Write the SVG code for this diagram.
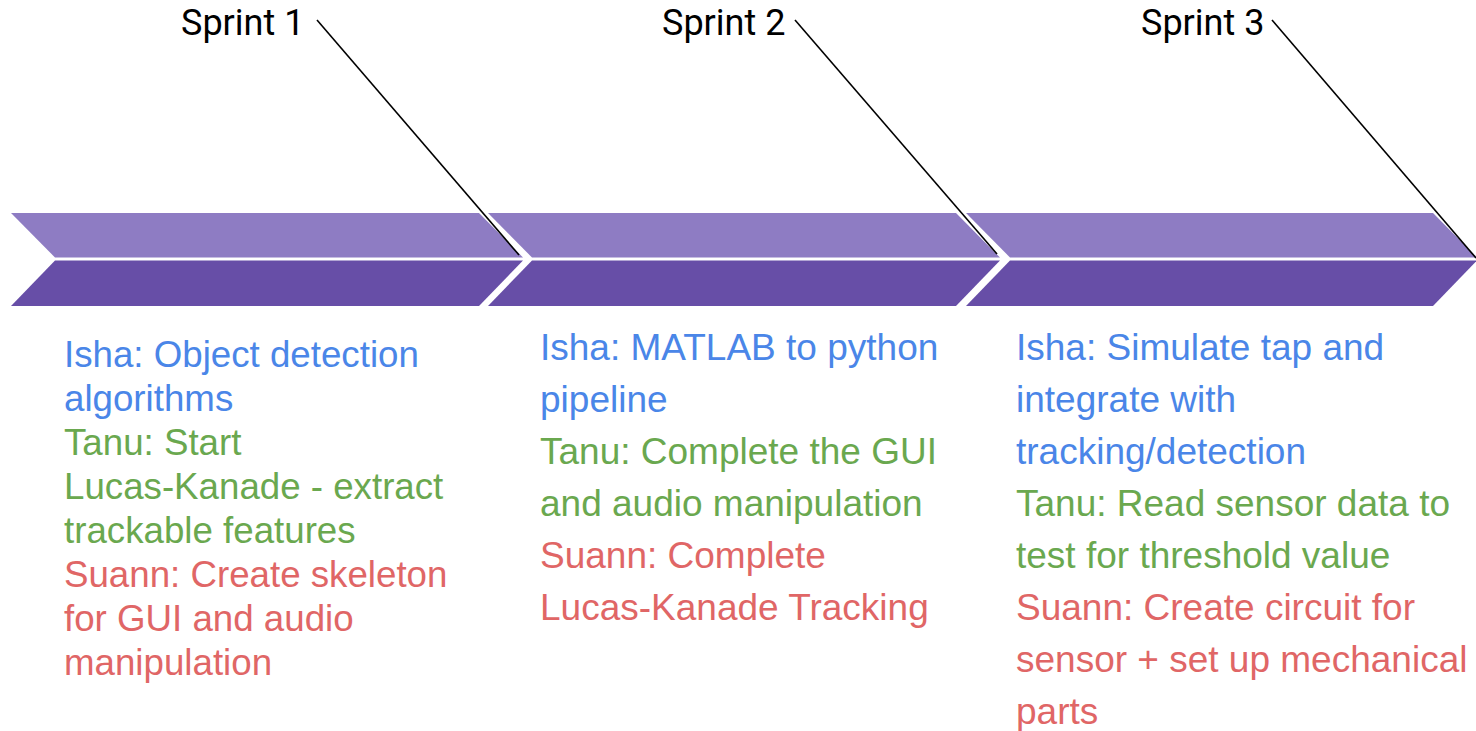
<svg xmlns="http://www.w3.org/2000/svg" width="1476" height="731" viewBox="0 0 1476 731">
<style>
.top{fill:#8E7CC3}
.bot{fill:#674EA7}
.lbl{font-family:Roboto,"Liberation Sans",sans-serif;font-size:36px;fill:#000}
.t{font-family:"Liberation Sans",Arial,sans-serif;font-size:37px}
.t1{font-size:36.7px}
.b{fill:#4A86E8}
.g{fill:#6AA84F}
.r{fill:#E06666}
.lead{stroke:#000;stroke-width:1.6;fill:none}
</style>
<rect width="1476" height="731" fill="#fff"/>
<g id="chevron1">
<polygon class="top" points="11,213 479,213 523,257.5 55,257.5"/>
<polygon class="bot" points="55,260.5 523,260.5 479,306 11,306"/>
</g>
<g id="chevron2">
<polygon class="top" points="488,213 956,213 1000,257.5 532,257.5"/>
<polygon class="bot" points="532,260.5 1000,260.5 956,306 488,306"/>
</g>
<g id="chevron3">
<polygon class="top" points="966,213 1433,213 1477,257.5 1010,257.5"/>
<polygon class="bot" points="1010,260.5 1477,260.5 1433,306 966,306"/>
</g>
<g id="connectors">
<line class="lead" x1="317" y1="20" x2="519" y2="255"/>
<line class="lead" x1="795" y1="20" x2="997" y2="254"/>
<line class="lead" x1="1272" y1="20" x2="1476" y2="258"/>
</g>
<g id="sprint1">
<text class="lbl" x="181" y="35">Sprint 1</text>
<text class="t t1"><tspan class="b" x="64" y="367">Isha: Object detection</tspan><tspan class="b" x="64" y="411">algorithms</tspan><tspan class="g" x="64" y="455">Tanu: Start</tspan><tspan class="g" x="64" y="499">Lucas-Kanade - extract</tspan><tspan class="g" x="64" y="543">trackable features</tspan><tspan class="r" x="64" y="587">Suann: Create skeleton</tspan><tspan class="r" x="64" y="631">for GUI and audio</tspan><tspan class="r" x="64" y="675">manipulation</tspan></text>
</g>
<g id="sprint2">
<text class="lbl" x="662" y="35">Sprint 2</text>
<text class="t"><tspan class="b" x="540" y="360">Isha: MATLAB to python</tspan><tspan class="b" x="540" y="412">pipeline</tspan><tspan class="g" x="540" y="464">Tanu: Complete the GUI</tspan><tspan class="g" x="540" y="516">and audio manipulation</tspan><tspan class="r" x="540" y="568">Suann: Complete</tspan><tspan class="r" x="540" y="620">Lucas-Kanade Tracking</tspan></text>
</g>
<g id="sprint3">
<text class="lbl" x="1141" y="35">Sprint 3</text>
<text class="t"><tspan class="b" x="1016" y="360">Isha: Simulate tap and</tspan><tspan class="b" x="1016" y="412">integrate with</tspan><tspan class="b" x="1016" y="464">tracking/detection</tspan><tspan class="g" x="1016" y="516">Tanu: Read sensor data to</tspan><tspan class="g" x="1016" y="568">test for threshold value</tspan><tspan class="r" x="1016" y="620">Suann: Create circuit for</tspan><tspan class="r" x="1016" y="672">sensor + set up mechanical</tspan><tspan class="r" x="1016" y="724">parts</tspan></text>
</g>
</svg>
